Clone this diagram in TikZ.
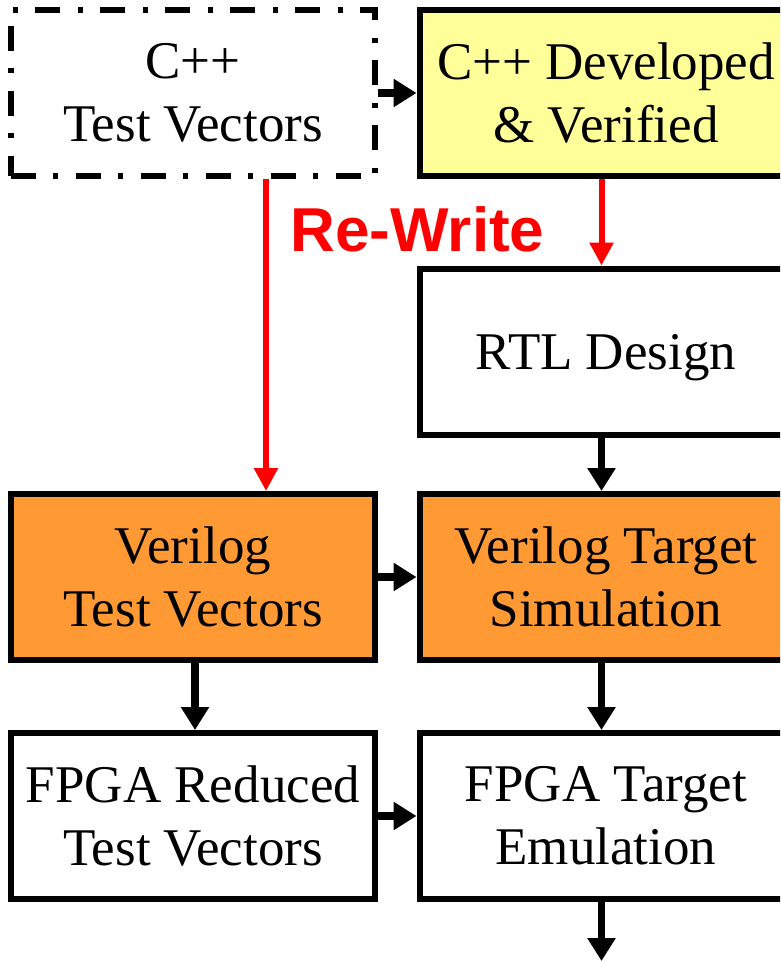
\documentclass[tikz,border=0pt]{standalone}
\usepackage{fontspec}
\setmainfont{Liberation Serif}
\newfontfamily\labelsans{Liberation Sans}
\usetikzlibrary{arrows.meta}
\definecolor{paleyellow}{HTML}{FFFF99}
\definecolor{flowred}{HTML}{FF0000}
\definecolor{tangerine}{HTML}{FF9933}
\begin{document}
\begin{tikzpicture}[x=1pt,y=-1pt,
  stagebox/.style={draw, line width=6pt, minimum width=364pt, minimum height=166pt,
    inner sep=0pt, align=center, font=\fontsize{53}{63}\selectfont},
  widebox/.style={stagebox, minimum width=373pt},
  dashdotbox/.style={stagebox, dash pattern=on 25pt off 17pt on 5pt off 18pt},
  flow/.style={line width=7.5pt, -{Triangle[length=23pt,width=27pt]}},
  rewrite/.style={draw=flowred, line width=6pt, -{Triangle[length=23pt,width=23pt]}, color=flowred}
]
\useasboundingbox (0,0) rectangle (780,961);
\clip (0,0) rectangle (780,961);

% stage boxes (the right column runs past the right margin)
\node[dashdotbox] (cvec) at (193,93) {C++\\Test Vectors};
\node[widebox, fill=paleyellow] (cdev) at (606,93) {C++ Developed\\\& Verified};
\node[widebox, text depth=0pt] (rtl) at (606,351.5) {RTL Design};
\node[stagebox, fill=tangerine] (vvec) at (193,577) {Verilog\\Test Vectors};
\node[widebox, fill=tangerine] (vsim) at (606,577) {Verilog Target\\Simulation};
\node[stagebox] (fvec) at (193,816) {FPGA Reduced\\Test Vectors};
\node[widebox] (femu) at (606,816) {FPGA Target\\Emulation};
\coordinate (out) at (601.5,961);

% rewrite label
\node[anchor=base, text=flowred, font=\labelsans\bfseries\fontsize{62}{70}\selectfont] (rw) at (417.5,251) {Re-Write};

% connectors
\draw[flow] (cvec.east) -- (cdev.west);
\draw[rewrite] ([xshift=73pt]cvec.south) -- ([xshift=73pt]vvec.north);
\draw[rewrite] ([xshift=-4.5pt]cdev.south) -- ([xshift=-4.5pt]rtl.north);
\draw[flow] ([xshift=-4.5pt]rtl.south) -- ([xshift=-4.5pt]vsim.north);
\draw[flow] (vvec.east) -- (vsim.west);
\draw[flow] ([xshift=2pt]vvec.south) -- ([xshift=2pt]fvec.north);
\draw[flow] ([xshift=-4.5pt]vsim.south) -- ([xshift=-4.5pt]femu.north);
\draw[flow] (fvec.east) -- (femu.west);
\draw[flow] ([xshift=-4.5pt]femu.south) -- (out);
\end{tikzpicture}
\end{document}
